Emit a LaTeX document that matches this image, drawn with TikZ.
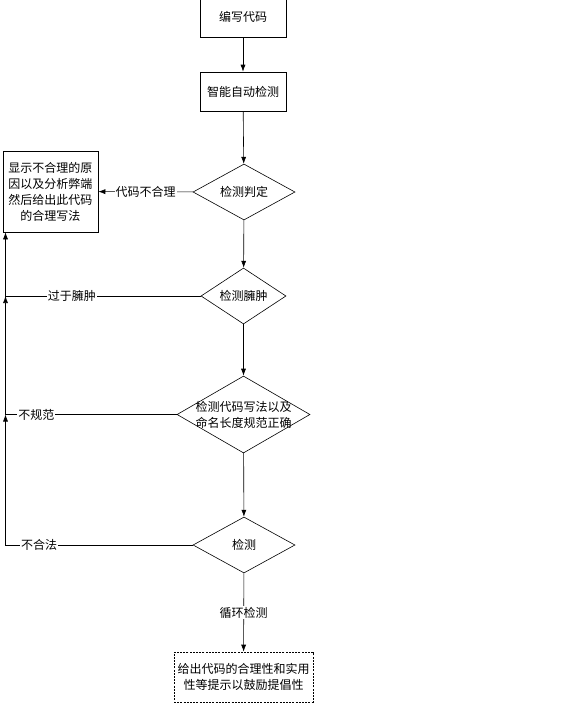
\documentclass[tikz,border=0pt]{standalone}
\usepackage{fontspec}
\newfontfamily\cjk{Noto Sans CJK SC}
\usetikzlibrary{shapes.geometric,arrows.meta}

\begin{document}
\begin{tikzpicture}[x=1pt,y=-1pt,line width=0.6pt,
    font=\cjk\fontsize{12}{16}\selectfont,
    box/.style={draw,minimum width=86pt,minimum height=39pt,inner sep=0pt},
    test/.style={draw,diamond,aspect=2,inner sep=0pt},
    arr/.style={-{Latex[length=7pt,width=5pt]}},
    lab/.style={fill=white,inner sep=1pt}]
  \clip (0,0) rectangle (576,705);
  \node[box,minimum height=40pt] (write) at (243,17) {编写代码};
  \node[box] (auto) at (243,91.5) {智能自动检测};
  \node[test,minimum width=102pt,minimum height=56pt] (judge) at (244,192) {检测判定};
  \node[draw,minimum width=95pt,minimum height=81pt,align=center,inner sep=0pt] (reason) at (50.5,191.5)
    {显示不合理的原\\因以及分析弊端\\然后给出此代码\\的合理写法};
  \node[test,minimum width=85pt,minimum height=56pt] (bloat) at (243.5,296) {检测臃肿};
  \node[test,minimum width=133pt,minimum height=77pt,
    label={[align=center,inner sep=0pt]center:检测代码写法以及\\命名长度规范正确}] (style) at (243.5,414.5) {};
  \node[test,minimum width=102pt,minimum height=56pt] (check) at (244,545) {检测};
  \node[box,dash pattern=on 2pt off 1.2pt,minimum width=139pt,minimum height=50pt,align=center] (hint) at (243.5,677)
    {给出代码的合理性和实用\\性等提示以鼓励提倡性};
  % return path on the left
  \coordinate (c2) at (5.5,296);
  \coordinate (c3) at (5.5,414.5);
  \coordinate (c4) at (5.5,545);

  \draw[arr] (write) -- (auto);
  \draw[arr] (auto) -- (judge);
  \draw[arr] (judge) -- (bloat);
  \draw[arr] (bloat) -- (style);
  \draw[arr] (style) -- (check);
  \draw[arr] (check) -- node[lab] {循环检测} (hint);
  \draw[arr] (judge) -- node[lab] {代码不合理} (reason);
  \draw[arr] (check) -- node[lab,pos=0.82] {不合法} (c4) -- (c3);
  \draw[arr] (style) -- node[lab,pos=0.82] {不规范} (c3) -- (c2);
  \draw[arr] (bloat) -- node[lab,pos=0.66] {过于臃肿} (c2) -- (c2 |- reason.south);
\end{tikzpicture}
\end{document}
